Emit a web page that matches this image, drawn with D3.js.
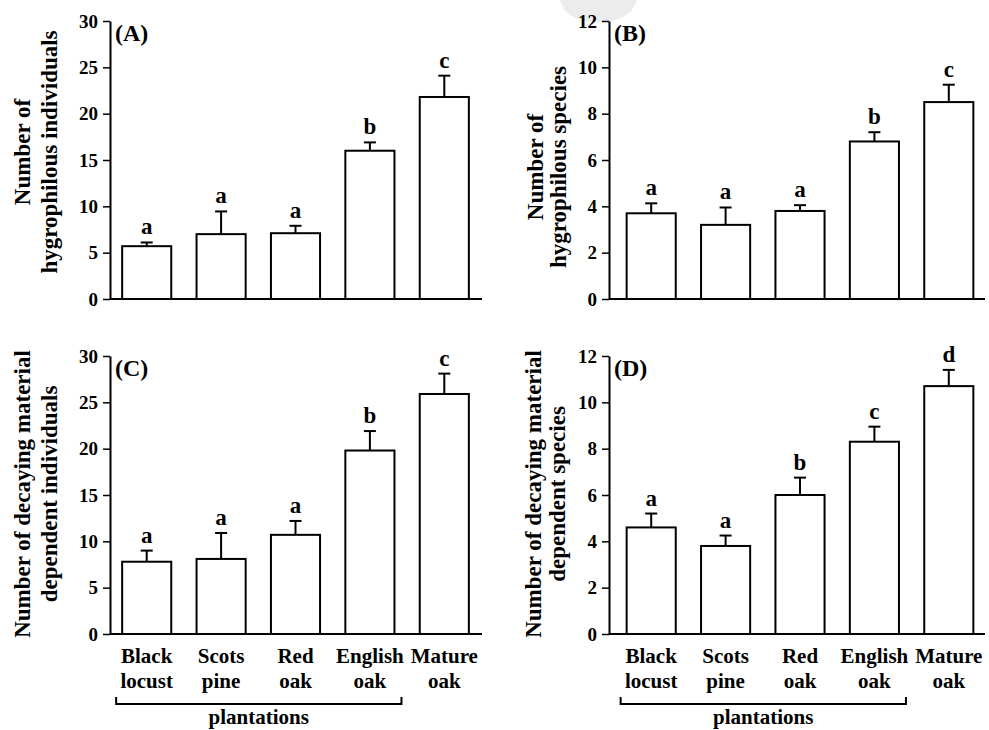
<html>
<script src="https://d3js.org/d3.v7.min.js"></script>
<style>
  body { margin: 0; background: #fff; }
  #fig text { font-family: "Liberation Serif", "DejaVu Serif", serif !important; font-weight: 700; fill: #000; }
</style>
<body>
<svg id="fig" width="989" height="730" font-family="Liberation Serif, DejaVu Serif, serif"></svg>
<script>
  // site names (two lines on the axis)
  const sites = ["Black locust", "Scots pine", "Red oak", "English oak", "Mature oak"];
  const siteLines = [["Black", "locust"], ["Scots", "pine"], ["Red", "oak"], ["English", "oak"], ["Mature", "oak"]];

  // (A) hygrophilous individuals
  const hygroIndMean = [5.7, 7.0, 7.1, 16.0, 21.8];
  const hygroIndErr = [0.4, 2.45, 0.8, 0.9, 2.3];
  const hygroIndLetters = ["a", "a", "a", "b", "c"];

  // (B) hygrophilous species
  const hygroSppMean = [3.7, 3.2, 3.8, 6.8, 8.5];
  const hygroSppErr = [0.43, 0.75, 0.25, 0.4, 0.75];
  const hygroSppLetters = ["a", "a", "a", "b", "c"];

  // (C) decaying material dependent individuals
  const decayIndMean = [7.8, 8.1, 10.7, 19.8, 25.9];
  const decayIndErr = [1.2, 2.8, 1.5, 2.1, 2.2];
  const decayIndLetters = ["a", "a", "a", "b", "c"];

  // (D) decaying material dependent species
  const decaySppMean = [4.6, 3.8, 6.0, 8.3, 10.7];
  const decaySppErr = [0.6, 0.45, 0.75, 0.65, 0.7];
  const decaySppLetters = ["a", "a", "b", "c", "d"];

  const ticksInd = [0, 5, 10, 15, 20, 25, 30];
  const ticksSpp = [0, 2, 4, 6, 8, 10, 12];

  const svg = d3.select("#fig");

  // faint watermark blob at the top
  svg.append("path")
    .attr("d", "M560,0 L637,0 Q630,22 598,22 Q566,22 560,0 Z")
    .attr("fill", "#ececec");

  const panels = [
    { tag: "(A)", mean: hygroIndMean, err: hygroIndErr, letters: hygroIndLetters, ticks: ticksInd, max: 30,
      axisX: 110, top: 21, bottom: 299, band: [109.5, 481.5], xEnd: 482,
      title: ["Number of", "hygrophilous individuals"], titleX: [30, 57], titleY: 152, xlabels: false },
    { tag: "(B)", mean: hygroSppMean, err: hygroSppErr, letters: hygroSppLetters, ticks: ticksSpp, max: 12,
      axisX: 609, top: 21, bottom: 299, band: [614, 986], xEnd: 985,
      title: ["Number of", "hygrophilous species"], titleX: [543, 566], titleY: 167, xlabels: false },
    { tag: "(C)", mean: decayIndMean, err: decayIndErr, letters: decayIndLetters, ticks: ticksInd, max: 30,
      axisX: 110, top: 356, bottom: 634, band: [109.5, 481.5], xEnd: 482,
      title: ["Number of decaying material", "dependent individuals"], titleX: [30, 57], titleY: 494, xlabels: true },
    { tag: "(D)", mean: decaySppMean, err: decaySppErr, letters: decaySppLetters, ticks: ticksSpp, max: 12,
      axisX: 609, top: 356, bottom: 634, band: [614, 986], xEnd: 985,
      title: ["Number of decaying material", "dependent species"], titleX: [541, 565], titleY: 494, xlabels: true }
  ];

  panels.forEach(p => {
    const g = svg.append("g");

    const x = d3.scaleBand()
      .domain(sites)
      .range(p.band)
      .paddingInner(0.34)
      .paddingOuter(0.17);

    const y = d3.scaleLinear()
      .domain([0, p.max])
      .range([p.bottom, p.top]);

    const data = sites.map((s, i) => ({ site: s, mean: p.mean[i], err: p.err[i], letter: p.letters[i] }));

    // bars
    g.selectAll(".bar")
      .data(data)
      .enter().append("rect")
      .attr("class", "bar")
      .attr("x", d => x(d.site))
      .attr("width", x.bandwidth())
      .attr("y", d => y(d.mean))
      .attr("height", d => y(0) - y(d.mean))
      .attr("fill", "#fff")
      .attr("stroke", "#000")
      .attr("stroke-width", 2);

    // error bars (upper only)
    const cx = d => x(d.site) + x.bandwidth() / 2;
    g.selectAll(".err")
      .data(data)
      .enter().append("line")
      .attr("x1", cx).attr("x2", cx)
      .attr("y1", d => y(d.mean))
      .attr("y2", d => y(d.mean + d.err))
      .attr("stroke", "#000").attr("stroke-width", 2);

    g.selectAll(".cap")
      .data(data)
      .enter().append("line")
      .attr("x1", d => cx(d) - 6).attr("x2", d => cx(d) + 6)
      .attr("y1", d => y(d.mean + d.err))
      .attr("y2", d => y(d.mean + d.err))
      .attr("stroke", "#000").attr("stroke-width", 2);

    // significance letters
    g.selectAll(".sig")
      .data(data)
      .enter().append("text")
      .attr("x", cx)
      .attr("y", d => y(d.mean + d.err) - 8)
      .attr("text-anchor", "middle")
      .attr("font-size", 23)
      .text(d => d.letter);

    // x axis line
    g.append("line")
      .attr("x1", p.axisX).attr("x2", p.xEnd)
      .attr("y1", p.bottom).attr("y2", p.bottom)
      .attr("stroke", "#000").attr("stroke-width", 2);

    // y axis
    const yAxis = d3.axisLeft(y)
      .tickValues(p.ticks)
      .tickSize(7)
      .tickSizeOuter(0)
      .tickPadding(5);

    const ya = g.append("g")
      .attr("transform", "translate(" + p.axisX + ",0)")
      .call(yAxis)
      .attr("font-family", null);
    ya.select(".domain").attr("stroke-width", 2);
    ya.selectAll(".tick line").attr("stroke-width", 1.5);
    ya.selectAll(".tick text").attr("font-size", 19);

    // panel tag
    g.append("text")
      .attr("x", p.axisX + 5)
      .attr("y", p.top + 20)
      .attr("font-size", 24)
      .text(p.tag);

    // y title, two rotated lines
    p.title.forEach((t, i) => {
      g.append("text")
        .attr("transform", "translate(" + p.titleX[i] + "," + p.titleY + ") rotate(-90)")
        .attr("text-anchor", "middle")
        .attr("font-size", 23)
        .text(t);
    });

    if (p.xlabels) {
      siteLines.forEach((lines, i) => {
        lines.forEach((ln, j) => {
          g.append("text")
            .attr("x", x(sites[i]) + x.bandwidth() / 2)
            .attr("y", 663 + j * 25)
            .attr("text-anchor", "middle")
            .attr("font-size", 21)
            .text(ln);
        });
      });

      // plantations bracket under the first four sites
      const bx0 = x(sites[0]) - 6;
      const bx1 = x(sites[3]) + x.bandwidth() + 7;
      g.append("path")
        .attr("d", "M" + bx0 + ",697 V704 H" + bx1 + " V697")
        .attr("fill", "none")
        .attr("stroke", "#000")
        .attr("stroke-width", 2);

      g.append("text")
        .attr("x", (bx0 + bx1) / 2)
        .attr("y", 724)
        .attr("text-anchor", "middle")
        .attr("font-size", 21)
        .text("plantations");
    }
  });
</script>
</body>
</html>
